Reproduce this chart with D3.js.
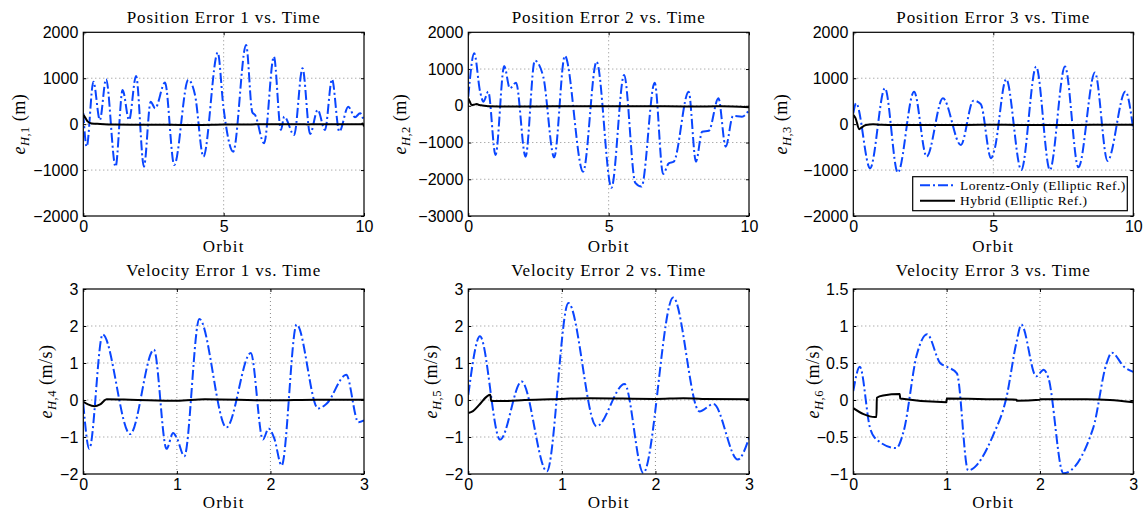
<!DOCTYPE html>
<html><head><meta charset="utf-8">
<script src="https://cdn.jsdelivr.net/npm/d3@7"></script>
<style>body{margin:0;background:#fff}svg{display:block}</style>
</head><body>
<svg id="chart" width="1146" height="517"></svg>
<script>
// ---------------- DATA ----------------
const titles = ["Position Error 1 vs. Time","Position Error 2 vs. Time","Position Error 3 vs. Time",
                "Velocity Error 1 vs. Time","Velocity Error 2 vs. Time","Velocity Error 3 vs. Time"];
const subscripts = ["1","2","3","4","5","6"];
const units = ["m","m","m","m/s","m/s","m/s"];
const xLabel = "Orbit";
const legendLabels = ["Lorentz-Only (Elliptic Ref.)","Hybrid (Elliptic Ref.)"];
const xDomainPos = [0,10], xTicksPos = [0,5,10];
const xDomainVel = [0,3],  xTicksVel = [0,1,2,3];
const yDomains = [[-2000,2000],[-3000,2000],[-2000,2000],[-2,3],[-2,3],[-1,1.5]];
const yTicks = [[-2000,-1000,0,1000,2000],[-3000,-2000,-1000,0,1000,2000],[-2000,-1000,0,1000,2000],
                [-2,-1,0,1,2,3],[-2,-1,0,1,2,3],[-1,-0.5,0,0.5,1,1.5]];

// Lorentz-only (orbit, value)
const lorentz1 = [[0,240],[0.12,-490],[0.36,925],[0.59,90],[0.81,980],[1.15,-925],[1.40,745],[1.63,90],[1.88,1050],
 [2.16,-925],[2.40,490],[2.56,345],[2.91,905],[3.24,-890],[3.74,963],[3.98,636],[4.28,-708],[4.79,1558],[4.99,380],
 [5.34,-600],[5.80,1725],[6.02,260],[6.12,200],[6.44,-416],[6.79,1470],[7.04,-126],[7.16,165],[7.51,-235],[7.81,1217],
 [8.08,-214],[8.35,310],[8.61,-126],[8.86,978],[9.12,-163],[9.44,381],[9.68,150],[9.86,237],[10,55]];
const lorentz2 = [[0,245],[0.21,1430],[0.42,385],[0.54,112],[0.71,385],[0.97,-1340],[1.28,1083],[1.48,476],[1.70,630],
 [2.04,-1385],[2.37,1229],[2.67,793],[3.06,-1403],[3.44,1357],[4.09,-1794],[4.57,1202],[5.1,-2230],[5.55,838],
 [5.95,-2100],[6.17,-2200],[6.64,630],[6.94,-1857],[7.14,-1566],[7.32,-1520],[7.85,385],[8.11,-1520],[8.33,-705],
 [8.57,-680],[8.91,204],[9.17,-1112],[9.43,-278],[9.75,-296],[10,-114]];
const lorentz3 = [[0,237],[0.1,455],[0.6,-960],[1.13,782],[1.59,-1055],[2.17,708],[2.62,-708],[3.2,563],[3.84,-453],
 [4.29,512],[4.55,440],[4.92,-744],[5.04,-560],[5.46,978],[6.0,-997],[6.53,1253],[7.02,-997],[7.56,1253],[8.04,-940],
 [8.63,1122],[9.08,-800],[9.72,712],[10,-126]];
const lorentz4 = [[0,-0.1],[0.064,-1.32],[0.207,1.77],[0.50,-0.92],[0.755,1.36],[0.89,-1.32],[0.96,-0.89],[1.0,-1.03],
 [1.08,-1.52],[1.24,2.19],[1.53,-0.74],[1.79,1.27],[1.92,-1.07],[1.98,-0.77],[2.04,-1.03],[2.12,-1.77],[2.28,2.04],
 [2.51,-0.23],[2.6,-0.1],[2.81,0.68],[2.94,-0.6],[3,-0.55]];
const lorentz5 = [[0,0.14],[0.125,1.72],[0.34,-1.07],[0.57,0.5],[0.84,-1.93],[1.07,2.62],[1.37,-0.71],[1.67,0.43],
 [1.87,-1.97],[2.19,2.77],[2.47,-0.31],[2.62,-0.11],[2.88,-1.61],[3,-1.03]];
const lorentz6 = [[0,0.12],[0.07,0.45],[0.18,-0.38],[0.23,-0.51],[0.46,-0.65],[0.54,-0.42],[0.68,0.61],[0.79,0.89],
 [0.93,0.5],[1.0,0.45],[1.11,0.36],[1.23,-0.95],[1.5,-0.47],[1.64,0.03],[1.75,0.79],[1.80,1.02],[1.96,0.32],[2.04,0.41],
 [2.09,0.3],[2.25,-0.99],[2.57,-0.38],[2.71,0.48],[2.77,0.64],[2.9,0.45],[3,0.38]];

// Hybrid (orbit, value)
const hybrid1 = [[0,200],[0.05,160],[0.15,60],[0.3,15],[0.6,5],[1,-10],[2,-15],[3,-15],[4,-20],[5,-10],[6,-5],[7,0],
 [8,-5],[9,0],[9.9,0],[9.95,15],[10,-50]];
const hybrid2 = [[0,200],[0.05,120],[0.12,20],[0.2,30],[0.3,50],[0.4,20],[0.5,10],[0.7,-10],[1.5,-20],[3,-15],[5,-10],
 [7,-15],[8,-20],[9,-15],[10,-40]];
const hybrid3 = [[0,200],[0.08,130],[0.21,-110],[0.3,-70],[0.45,-20],[0.7,0],[1,-15],[1.5,-20],[3,-20],[5,-15],[7,-20],
 [9,-15],[10,-15]];
const hybrid4 = [[0,-0.05],[0.05,-0.12],[0.12,-0.17],[0.18,-0.12],[0.25,0.02],[0.5,0.01],[1,-0.02],[1.3,0.02],[2,-0.01],
 [2.5,0.01],[3,0.01]];
const hybrid5 = [[0,-0.35],[0.05,-0.3],[0.12,-0.12],[0.2,0.1],[0.235,0.14],[0.245,-0.03],[0.4,-0.03],[0.6,0.0],[1,0.03],
 [1.3,0.05],[2,0.03],[2.3,0.05],[2.5,0.03],[3,0.02]];
const hybrid6 = [[0,-0.11],[0.11,-0.19],[0.23,-0.23],[0.248,-0.23],[0.252,0.03],[0.32,0.06],[0.498,0.08],[0.502,0.02],
 [0.998,-0.03],[1.002,0.02],[1.5,0.01],[1.748,0.005],[1.752,-0.01],[1.998,0.005],[2.002,0.01],[2.5,0.01],[2.75,0.0],[3,-0.03]];

const lorentzAll = [lorentz1,lorentz2,lorentz3,lorentz4,lorentz5,lorentz6];
const hybridAll = [hybrid1,hybrid2,hybrid3,hybrid4,hybrid5,hybrid6];

// ---------------- LAYOUT ----------------
const colL = [83.3, 468.3, 853.3], colR = [364, 749, 1133.3];
const rowT = [32.3, 289], rowB = [216, 474];
const titleY = [23, 276], xLabelY = [252, 508];
const yLabelX = [25, 406, 787, 52, 437, 819];
const BLUE = "#0a46ff";
const serif = "'Liberation Serif','Times New Roman',serif";
const sans = "'Liberation Sans',Arial,Helvetica,sans-serif";

const svg = d3.select("#chart");
const fmt = v => (v < 0 ? "\u2212" : "") + Math.abs(v);

for (let i = 0; i < 6; i++) {
  const c = i % 3, r = Math.floor(i / 3);
  const x0 = colL[c], x1 = colR[c], y0 = rowT[r], y1 = rowB[r];
  const xs = d3.scaleLinear().domain(r === 0 ? xDomainPos : xDomainVel).range([x0, x1]);
  const ys = d3.scaleLinear().domain(yDomains[i]).range([y1, y0]);
  const xt = r === 0 ? xTicksPos : xTicksVel;
  const g = svg.append("g");
  const cid = "clip" + i;
  svg.append("clipPath").attr("id", cid).append("rect").attr("x", x0).attr("y", y0).attr("width", x1 - x0).attr("height", y1 - y0);

  // grid
  const grid = g.append("g").attr("stroke", "#8a8a8a").attr("stroke-width", 1).attr("stroke-dasharray", "1,3");
  xt.filter(v => v !== xs.domain()[0] && v !== xs.domain()[1]).forEach(v => {
    grid.append("line").attr("x1", xs(v)).attr("x2", xs(v)).attr("y1", y0).attr("y2", y1);
  });
  yTicks[i].filter(v => v !== ys.domain()[0] && v !== ys.domain()[1]).forEach(v => {
    grid.append("line").attr("x1", x0).attr("x2", x1).attr("y1", ys(v)).attr("y2", ys(v));
  });

  // axes
  const styleAxis = sel => {
    sel.select(".domain").remove();
    sel.selectAll("line").attr("stroke", "#000");
    sel.selectAll("text").attr("font-family", sans).attr("font-size", 16).attr("fill", "#000");
  };
  g.append("g").attr("transform", `translate(0,${y1})`)
    .call(d3.axisBottom(xs).tickValues(xt).tickSize(-3).tickPadding(5).tickFormat(fmt)).call(styleAxis);
  g.append("g").attr("transform", `translate(0,${y0})`)
    .call(d3.axisTop(xs).tickValues(xt).tickSize(-3).tickFormat("")).call(styleAxis);
  g.append("g").attr("transform", `translate(${x0},0)`)
    .call(d3.axisLeft(ys).tickValues(yTicks[i]).tickSize(-3).tickPadding(5).tickFormat(fmt)).call(styleAxis);
  g.append("g").attr("transform", `translate(${x1},0)`)
    .call(d3.axisRight(ys).tickValues(yTicks[i]).tickSize(-3).tickFormat("")).call(styleAxis);

  // lines
  const line = d3.line().x(d => xs(d[0])).y(d => ys(d[1])).curve(d3.curveMonotoneX);
  const lg = g.append("g").attr("clip-path", `url(#${cid})`);
  lg.append("path").datum(lorentzAll[i]).attr("d", line).attr("fill", "none")
    .attr("stroke", BLUE).attr("stroke-width", 2).attr("stroke-dasharray", "10,3,2,3");
  lg.append("path").datum(hybridAll[i]).attr("d", line).attr("fill", "none")
    .attr("stroke", "#000").attr("stroke-width", 2);

  // frame
  g.append("rect").attr("x", x0).attr("y", y0).attr("width", x1 - x0).attr("height", y1 - y0)
    .attr("fill", "none").attr("stroke", "#000").attr("stroke-width", 1.2);

  // title
  g.append("text").attr("x", (x0 + x1) / 2).attr("y", titleY[r]).attr("text-anchor", "middle")
    .attr("font-family", serif).attr("font-size", 17).attr("letter-spacing", 0.9).text(titles[i]);
  // x label
  g.append("text").attr("x", (x0 + x1) / 2).attr("y", xLabelY[r]).attr("text-anchor", "middle")
    .attr("font-family", serif).attr("font-size", 17).attr("letter-spacing", 1.2).text(xLabel);
  // y label
  const yl = g.append("text").attr("transform", `translate(${yLabelX[i]},${(y0 + y1) / 2}) rotate(-90)`)
    .attr("text-anchor", "middle").attr("font-family", serif).attr("font-size", 18).attr("letter-spacing", 0.5);
  yl.append("tspan").attr("font-style", "italic").text("e");
  yl.append("tspan").attr("dy", 4).attr("font-size", 12.5).attr("font-style", "italic").text("H");
  yl.append("tspan").attr("font-size", 12.5).text("," + subscripts[i]);
  yl.append("tspan").attr("dy", -4).text("\u00a0(" + units[i] + ")");

  // legend in panel 3
  if (i === 2) {
    const lx = 912.7, ly = 176.7, lw = 214.6, lh = 34;
    const leg = g.append("g");
    leg.append("rect").attr("x", lx).attr("y", ly).attr("width", lw).attr("height", lh)
      .attr("fill", "#fff").attr("stroke", "#000").attr("stroke-width", 1.2);
    const rowsY = [185.3, 200.7];
    leg.append("line").attr("x1", 920).attr("x2", 955).attr("y1", rowsY[0]).attr("y2", rowsY[0])
      .attr("stroke", BLUE).attr("stroke-width", 2).attr("stroke-dasharray", "10,3,2,3");
    leg.append("line").attr("x1", 920).attr("x2", 955).attr("y1", rowsY[1]).attr("y2", rowsY[1])
      .attr("stroke", "#000").attr("stroke-width", 2);
    legendLabels.forEach((t, k) => {
      leg.append("text").attr("x", 960).attr("y", rowsY[k] + 4.5).attr("font-family", serif)
        .attr("font-size", 13.5).attr("letter-spacing", 0.5).text(t);
    });
  }
}
</script>
</body></html>
